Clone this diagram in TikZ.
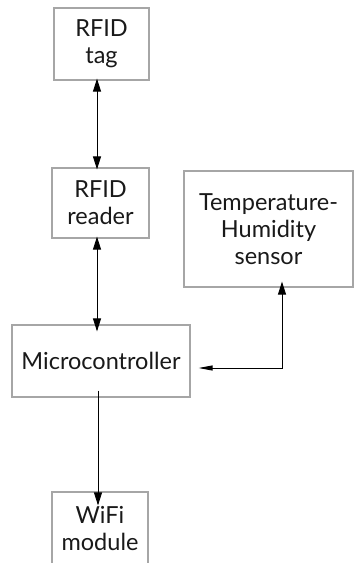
\documentclass[tikz,border=0pt]{standalone}
\usepackage{fontspec}
\setmainfont{Lato}
\usetikzlibrary{arrows.meta}
\begin{document}
\begin{tikzpicture}[x=1pt,y=-1pt,
  blk/.style={draw=black!35, line width=1.2pt, fill=white, inner sep=0pt,
    align=center, text=black!90, font=\fontsize{23.5}{27}\selectfont},
  tip/.style={Triangle[length=13pt,width=8pt]},
  conn/.style={draw=black, line width=0.9pt, {Triangle[length=13pt,width=8pt]}-{Triangle[length=13pt,width=8pt]}},
  oneway/.style={draw=black, line width=0.9pt, -{Triangle[length=13pt,width=8pt]}},
  elbowconn/.style={draw=black, line width=0.9pt, {Triangle[length=13pt,width=8pt]}-{Triangle[length=14pt,width=5pt]}}]
\useasboundingbox (0,0) rectangle (354,563);
\node[blk, minimum width=95pt, minimum height=72pt] (tag) at (101.5,44) {RFID\\tag};
\node[blk, minimum width=97pt, minimum height=70pt] (reader) at (100.5,203) {RFID\\reader};
\node[blk, minimum width=169pt, minimum height=116pt] (temp) at (268.5,229) {Temperature-\\Humidity\\sensor};
\node[blk, minimum width=178pt, minimum height=72pt] (micro) at (101,361) {Microcontroller};
\node[blk, minimum width=96pt, minimum height=74pt] (wifi) at (100,529) {WiFi\\module};
\coordinate (elbow) at (282,368);
\draw[conn] ([xshift=-4.5pt,yshift=2pt]tag.south) -- ([xshift=-4.5pt,yshift=-2pt]tag.south |- reader.north);
\draw[conn] ([xshift=-3.5pt,yshift=2pt]reader.south) -- ([xshift=-3.5pt,yshift=-7pt]reader.south |- micro.north);
\draw[oneway] ([xshift=-3pt,yshift=7pt]micro.south) -- ([xshift=-3pt,yshift=-14pt]micro.south |- wifi.north);
\draw[elbowconn] ([yshift=6pt]elbow |- temp.south) -- (elbow) -- ([xshift=8pt]micro.east |- elbow);
\end{tikzpicture}
\end{document}
